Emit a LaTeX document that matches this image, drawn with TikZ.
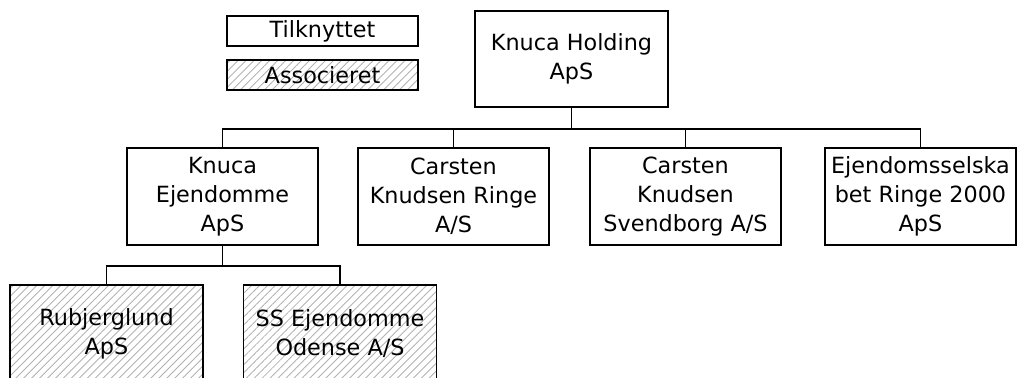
\documentclass[tikz,border=0pt]{standalone}
\usepackage{fontspec}
\setmainfont{DejaVu Sans}
\usetikzlibrary{patterns.meta}

\begin{document}
\begin{tikzpicture}[x=0.02cm,y=-0.02cm,
  every node/.style={draw,line width=1.1pt,align=center,font=\fontsize{12.7}{16.5}\selectfont,inner sep=0pt},
  firma/.style={minimum width=3.82cm,minimum height=1.94cm},
  legend/.style={minimum width=3.82cm,minimum height=0.6cm},
  assoc/.style={pattern={Lines[angle=45,distance=3.2pt,line width=0.5pt]},pattern color=gray!60}]
  \clip (0,0) rectangle (1019,378);
  % legend
  \node[legend] (tilk) at (322.5,31) {Tilknyttet};
  \node[legend,assoc] (asso) at (322.5,75) {Associeret};

  \node[firma,minimum width=3.86cm,minimum height=1.92cm] (holding) at (571.5,59) {Knuca Holding\\ApS};
  \node[firma] (ejd)   at (222.5,196.5) {Knuca\\Ejendomme\\ApS};
  \node[firma] (ringe) at (453.5,196.5) {Carsten\\Knudsen Ringe\\A/S};
  \node[firma] (svend) at (685.5,196.5) {Carsten\\Knudsen\\Svendborg A/S};
  \node[firma] (selsk) at (920.5,196.5) {Ejendomsselska\\bet Ringe 2000\\ApS};
  \node[firma,assoc,minimum width=3.86cm] (rub) at (106.5,333.5) {Rubjerglund\\ApS};
  \node[firma,assoc,minimum width=3.86cm] (ss)  at (340,333.5) {SS Ejendomme\\Odense A/S};

  \foreach \to in {ejd,ringe,svend,selsk}
    \draw[line width=1.1pt] (holding.south) -- ++(0,21) -| (\to.north);
  \foreach \to in {rub,ss}
    \draw[line width=1.1pt] (ejd.south) -- ++(0,20) -| (\to.north);

\end{tikzpicture}
\end{document}
